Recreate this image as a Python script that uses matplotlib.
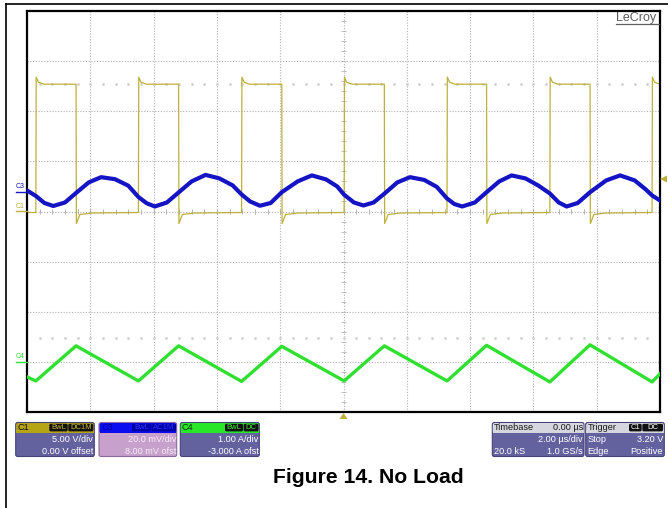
import matplotlib.pyplot as plt
from matplotlib.patches import FancyBboxPatch, Rectangle, Polygon

# ---- waveform readings (time in us) ----
# C1 switch node: 5 V/div, 0 V offset
c1_rise = [-9.72, -6.48, -3.22, 0.02, 3.27, 6.52, 9.75]
c1_fall = [-8.45, -5.21, -1.95, 1.29, 4.52, 7.79]
c1_high = 12.7
c1_spike = 13.4
c1_under = -1.2
c1_low = -0.1

# C3 output ripple: 20 mV/div, 8 mV offset
c3_t = [-10.0, -9.72, -9.45, -9.17, -8.80, -8.45, -8.05, -7.66, -7.22, -6.80,
        -6.48, -6.22, -5.96, -5.58, -5.21, -4.80, -4.36, -3.92, -3.50,
        -3.22, -2.95, -2.64, -2.30, -1.95, -1.45, -1.00, -0.55, -0.20,
        0.02, 0.33, 0.63, 0.95, 1.29, 1.70, 2.10, 2.55, 2.95,
        3.27, 3.50, 3.75, 4.15, 4.52, 4.92, 5.31, 5.75, 6.15,
        6.52, 6.80, 7.05, 7.40, 7.79, 8.30, 8.74, 9.20, 9.55, 9.75, 10.0]
c3_mv = [0.4, -1.8, -4.6, -5.8, -4.4, -0.6, 3.6, 5.7, 4.9, 2.3,
         -2.2, -4.7, -6.0, -4.4, -0.4, 4.0, 6.6, 5.2, 2.4,
         -1.2, -4.0, -5.7, -4.6, -0.3, 4.0, 6.4, 4.8, 2.0,
         -1.3, -4.4, -5.6, -4.4, -0.9, 3.6, 5.7, 4.6, 1.8,
         -2.8, -5.0, -6.0, -4.4, -0.3, 4.0, 6.4, 5.2, 2.4,
         -0.8, -4.4, -6.0, -4.6, -0.3, 4.4, 6.4, 4.4, 0.8, -1.6, -3.6]

# C4 inductor current: 1 A/div, -3 A offset
c4_t = [-10.0, -9.72, -8.45, -6.48, -5.21, -3.22, -1.95, 0.02, 1.29,
        3.27, 4.52, 6.52, 7.79, 9.75, 10.0]
c4_a = [-0.30, -0.38, 0.32, -0.38, 0.32, -0.39, 0.31, -0.38, 0.32,
        -0.38, 0.33, -0.40, 0.34, -0.40, -0.24]

W, H = 668, 508
YEL = "#bcb13a"
BLU = "#1414c4"
GRN = "#30e030"
PURPLE = "#64619f"
FONT = ["Liberation Sans", "DejaVu Sans"]


def c1_trace():
    t, v = [-10.0], [c1_low]
    for i, r in enumerate(c1_rise):
        t += [r, r + 0.01, r + 0.08, r + 0.25]
        v += [c1_low, c1_spike, 12.9, c1_high]
        if i < len(c1_fall):
            f = c1_fall[i]
            t += [f, f + 0.01, f + 0.12, f + 0.5]
            v += [c1_high, c1_under, -0.3, -0.15]
    t.append(10.0)
    v.append(c1_high)
    return t, [x / 5.0 for x in v]


fig = plt.figure(figsize=(W / 100, H / 100), dpi=100)
ax = fig.add_axes([27 / W, 1 - 412 / H, 633 / W, 401 / H], zorder=1)
ax.set_xlim(-10, 10)
ax.set_ylim(-4, 4)
ax.set_xticks([])
ax.set_yticks([])
for s in ax.spines.values():
    s.set_linewidth(1.6)
    s.set_color("black")

# graticule
for i in range(-4, 5):
    ax.axvline(i * 2, color="#b0b0b0", lw=0.8, ls=(0, (1, 1.5)), zorder=0)
for j in range(-3, 4):
    ax.axhline(j, color="#b0b0b0", lw=0.8, ls=(0, (1, 1.5)), zorder=0)
tx = [-10 + 0.4 * k for k in range(1, 50)]
ax.vlines(tx, -0.05, 0.05, color="#a8a8a8", lw=0.6, zorder=0)
ty = [-4 + 0.2 * k for k in range(1, 40)]
ax.hlines(ty, -0.09, 0.09, color="#b4b4b4", lw=0.6, zorder=0)
for yy in (2.54, -2.52):
    ax.plot(tx, [yy] * len(tx), ls="none", marker="s", ms=0.9,
            color="#d0d0d0", zorder=0)

# traces
t1, d1 = c1_trace()
ax.plot(t1, d1, color=YEL, lw=0.9, zorder=2)
ax.plot(c3_t, [(m + 8) / 20 for m in c3_mv], color=BLU, lw=3.0,
        solid_joinstyle="round", zorder=3)
ax.plot(c4_t, [a - 3 for a in c4_a], color=GRN, lw=2.4,
        solid_joinstyle="round", zorder=4)

# overlay in pixel coordinates for labels and panels
bg = fig.add_axes([0, 0, 1, 1], zorder=3)
bg.set_xlim(0, W)
bg.set_ylim(H, 0)
bg.axis("off")

bg.plot([5.5, 5.5], [3.5, H], color="black", lw=1.2)
bg.plot([5.5, W], [3.5, 3.5], color="black", lw=1.2)

bg.text(616, 18, "LeCroy", fontsize=9, color="#5e5e5e", family=FONT,
        va="center", ha="left")
bg.plot([616, 659], [23.5, 23.5], color="#5e5e5e", lw=0.9)

# channel ground markers
for lab, yc, col in (("C3", 191.5, BLU), ("C1", 211, YEL), ("C4", 362, GRN)):
    bg.text(16, yc - 5, lab, fontsize=5, color=col, family=FONT,
            va="center", ha="left")
    bg.plot([16, 27], [yc, yc], color=col, lw=1.0)

# trigger markers
bg.add_patch(Polygon([(660, 179), (667, 175.5), (667, 182.5)], closed=True,
                     fc=YEL, ec="none"))
bg.add_patch(Polygon([(343.5, 413), (339.5, 419), (347.5, 419)], closed=True,
                     fc=YEL, ec="none"))

TOP, HEAD, BOT = 422.5, 432.5, 456.5


def info_box(x0, x1, head, body, edge="#45427a"):
    bg.add_patch(FancyBboxPatch((x0, TOP), x1 - x0, BOT - TOP,
                                boxstyle="round,pad=0,rounding_size=2",
                                fc=body, ec=edge, lw=0.8))
    bg.add_patch(FancyBboxPatch((x0 + 0.5, TOP + 0.5), x1 - x0 - 1, HEAD - TOP,
                                boxstyle="round,pad=0,rounding_size=2",
                                fc=head, ec="none"))
    bg.add_patch(Rectangle((x0 + 0.5, HEAD - 3), x1 - x0 - 1, 3.5,
                           fc=head, ec="none"))


def badge(x0, x1, label, fc, tc):
    bg.add_patch(FancyBboxPatch((x0, 423.8), x1 - x0, 7.6,
                                boxstyle="round,pad=0,rounding_size=1.5",
                                fc=fc, ec="none"))
    bg.text((x0 + x1) / 2, 427.8, label, fontsize=5.5, color=tc,
            family=FONT, ha="center", va="center")


def txt(x, y, s, ha="right", col="white"):
    bg.text(x, y, s, fontsize=6.6, color=col, family=FONT, ha=ha, va="center")


# C1 panel
info_box(15.7, 94.3, "#b5a414", PURPLE)
txt(17.5, 427.6, "C1", ha="left", col="#111111")
badge(49.3, 67.7, "BwL", "#111111", "#c8b830")
badge(68.3, 93.3, "DC1M", "#111111", "#c8b830")
txt(93, 440, "5.00 V/div")
txt(93, 451, "0.00 V offset")

# C3 panel
info_box(99, 176.7, "#0c0cf0", "#c7a0cc", edge="#8a6a9a")
txt(101, 427.6, "C3", ha="left", col="#00009a")
badge(132, 151, "BwL", "#0000a8", "#3030ff")
badge(151.6, 176, "AC1M", "#0000a8", "#3030ff")
txt(176, 440, "20.0 mV/div", col="#f6ecf6")
txt(176, 451, "8.00 mV ofst", col="#f6ecf6")

# C4 panel
info_box(180.3, 259.3, "#28e628", PURPLE)
txt(182, 427.6, "C4", ha="left", col="#0a300a")
badge(225, 243, "BwL", "#111111", "#40f040")
badge(243.6, 258.5, "DC", "#111111", "#40f040")
txt(258.5, 440, "1.00 A/div")
txt(258.5, 451, "-3.000 A ofst")

# timebase panel
info_box(492.3, 584, "#d6d6de", PURPLE)
txt(494, 427.6, "Timebase", ha="left", col="#1a1a1a")
txt(583, 427.6, "0.00 \u00b5s", col="#1a1a1a")
txt(583, 440, "2.00 \u00b5s/div")
txt(494, 451, "20.0 kS", ha="left")
txt(583, 451, "1.0 GS/s")

# trigger panel
info_box(585.7, 664.3, "#d6d6de", PURPLE)
txt(587.5, 427.6, "Trigger", ha="left", col="#1a1a1a")
badge(629, 641.7, "C1", "#111111", "white")
badge(642.3, 663, "DC", "#111111", "white")
txt(587.5, 440, "Stop", ha="left")
txt(663, 440, "3.20 V")
txt(587.5, 451, "Edge", ha="left")
txt(663, 451, "Positive")

bg.text(368.3, 483, "Figure 14. No Load", fontsize=15.2, fontweight="bold",
        family=FONT, ha="center", va="baseline", color="black")

fig.savefig("out.png", dpi=100)
